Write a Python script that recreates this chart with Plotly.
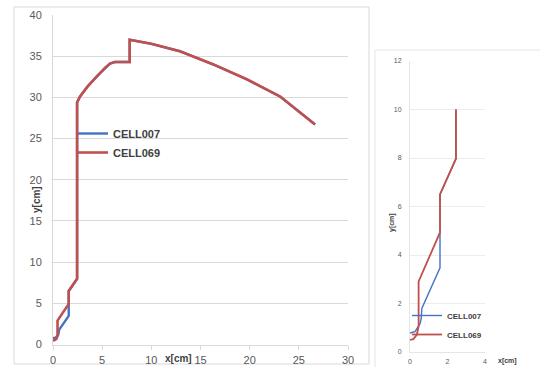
import plotly.graph_objects as go

# ---- data ----
# lower part of each path (before CELL007 joins CELL069)
cell007_low_x = [0.0, 0.27, 0.54, 0.6, 0.63, 1.6, 1.6]
cell007_low_y = [0.78, 0.84, 1.18, 1.4, 1.8, 3.47, 4.93]
cell069_low_x = [0.0, 0.18, 0.36, 0.46, 0.46, 1.6]
cell069_low_y = [0.5, 0.53, 0.71, 1.05, 2.91, 4.93]
# common middle part
mid_x = [1.6, 2.45]
mid_y = [6.5, 7.97]
# upper part (main chart only)
upper_x = [2.45, 2.75, 3.5, 4.5, 5.3, 5.8, 6.3, 7.8, 7.8, 10.0, 12.9, 16.3, 19.7, 23.1, 26.65]
upper_y = [29.4, 30.1, 31.3, 32.6, 33.6, 34.1, 34.3, 34.3, 37.0, 36.5, 35.6, 34.0, 32.2, 30.1, 26.7]
# end of the inset paths
inset_end_x = [2.45]
inset_end_y = [10.0]

main_x_ticks = [0, 5, 10, 15, 20, 25, 30]
main_y_ticks = [0, 5, 10, 15, 20, 25, 30, 35, 40]
inset_x_ticks = [0, 2, 4]
inset_y_ticks = [0, 2, 4, 6, 8, 10, 12]

BLUE = "#4472C4"
RED = "#C0504D"
W, H = 540, 367

fig = go.Figure()

# main chart
fig.add_trace(go.Scatter(x=cell007_low_x + mid_x + upper_x, y=cell007_low_y + mid_y + upper_y,
                         mode="lines", name="CELL007", line=dict(color=BLUE, width=2.4),
                         xaxis="x", yaxis="y", legend="legend"))
fig.add_trace(go.Scatter(x=cell069_low_x + mid_x + upper_x, y=cell069_low_y + mid_y + upper_y,
                         mode="lines", name="CELL069", line=dict(color=RED, width=2.6),
                         xaxis="x", yaxis="y", legend="legend"))
# inset chart
fig.add_trace(go.Scatter(x=cell007_low_x + mid_x + inset_end_x, y=cell007_low_y + mid_y + inset_end_y,
                         mode="lines", name="CELL007", line=dict(color=BLUE, width=1.4),
                         xaxis="x2", yaxis="y2", legend="legend2"))
fig.add_trace(go.Scatter(x=cell069_low_x + mid_x + inset_end_x, y=cell069_low_y + mid_y + inset_end_y,
                         mode="lines", name="CELL069", line=dict(color=RED, width=1.8),
                         xaxis="x2", yaxis="y2", legend="legend2"))

def px(v):
    return v / W

def py(v):
    return 1 - v / H

FONT = "Liberation Sans, Arial, sans-serif"
GRID = "#d9d9d9"

def label(text, x, y, size, angle=0):
    return dict(text=f"<b>{text}</b>", xref="paper", yref="paper", x=px(x), y=py(y),
                xanchor="center", yanchor="middle", textangle=angle,
                showarrow=False, font=dict(size=size, color="#404040"))

fig.update_layout(
    width=W, height=H,
    margin=dict(l=0, r=0, t=0, b=0, autoexpand=False),
    paper_bgcolor="white", plot_bgcolor="white",
    font=dict(family=FONT, color="#595959"),
    xaxis=dict(domain=[px(53), px(348)], range=[0, 30], tickvals=main_x_ticks, automargin=False,
               showgrid=False, zeroline=False, showline=True, linecolor=GRID, linewidth=1,
               ticks="outside", ticklen=4, tickcolor=GRID, tickfont=dict(size=11, color="#595959"),
               ticklabelstandoff=1, anchor="y"),
    yaxis=dict(domain=[py(344.5), py(15)], range=[0, 40], tickvals=main_y_ticks, automargin=False,
               showgrid=True, gridcolor=GRID, gridwidth=1, zeroline=False,
               showline=True, linecolor=GRID, linewidth=1,
               tickfont=dict(size=11, color="#595959"), ticklabelstandoff=8, anchor="x"),
    xaxis2=dict(domain=[px(410), px(485)], range=[0, 4], tickvals=inset_x_ticks, automargin=False,
                showgrid=False, zeroline=False, showline=True, linecolor="#e6e6e6",
                tickfont=dict(size=7, color="#595959"), ticklabelstandoff=3, anchor="y2"),
    yaxis2=dict(domain=[py(352), py(61)], range=[0, 12], tickvals=inset_y_ticks, automargin=False,
                showgrid=True, gridcolor="#ececec", gridwidth=1, zeroline=False,
                showline=True, linecolor="#e6e6e6",
                tickfont=dict(size=7, color="#595959"), ticklabelstandoff=6, anchor="x2"),
    legend=dict(x=px(73), y=py(119), xanchor="left", yanchor="top",
                font=dict(size=11, color="#404040", weight="bold"),
                bgcolor="rgba(0,0,0,0)", tracegroupgap=0, itemwidth=30),
    legend2=dict(x=px(407), y=py(301), xanchor="left", yanchor="top",
                 font=dict(size=8, color="#404040", weight="bold"),
                 bgcolor="rgba(0,0,0,0)", tracegroupgap=0, itemwidth=30),
    shapes=[
        dict(type="rect", xref="paper", yref="paper", x0=px(14), x1=px(369), y0=py(364), y1=py(7),
             line=dict(color="#d9d9d9", width=1), fillcolor="rgba(0,0,0,0)", layer="below"),
        dict(type="rect", xref="paper", yref="paper", x0=px(375), x1=px(560), y0=py(380), y1=py(50),
             line=dict(color="#e6e6e6", width=1), fillcolor="rgba(0,0,0,0)", layer="below"),
    ],
    annotations=[
        label("y[cm]", 36, 200, 10, -90),
        label("x[cm]", 178, 358, 10),
        label("y[cm]", 392, 223, 7, -90),
        label("x[cm]", 507, 361, 7),
    ],
)

fig.write_html("out.html", post_script="document.body.style.margin='0px';",
               config={"displayModeBar": False})
